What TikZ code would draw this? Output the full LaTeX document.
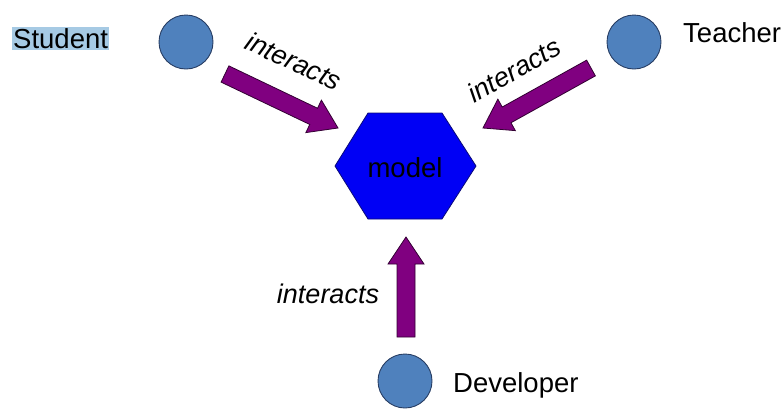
\documentclass[tikz,border=0pt]{standalone}
\usepackage{fontspec}
\setmainfont{Liberation Sans}
\usetikzlibrary{calc}
\definecolor{circfill}{RGB}{79,129,189}
\definecolor{circline}{RGB}{40,62,100}
\definecolor{hexfill}{RGB}{0,0,245}
\definecolor{hexline}{RGB}{10,10,120}
\definecolor{arrfill}{RGB}{128,0,128}
\definecolor{arrline}{RGB}{50,0,50}
\definecolor{hilite}{RGB}{166,202,228}
\newcommand\fatarrow[2]{%
  \coordinate (#1-h) at ($(#2)!27pt!(#1)$);
  \draw[fatarr] ($(#1)!9pt!90:(#2)$) -- ($(#1-h)!9pt!-90:(#1)$) -- ($(#1-h)!18pt!-90:(#1)$) -- (#2)
    -- ($(#1-h)!18pt!90:(#1)$) -- ($(#1-h)!9pt!90:(#1)$) -- ($(#1)!9pt!-90:(#2)$) -- cycle;}
\tikzset{
  actor/.style={circle, draw=circline, fill=circfill, line width=0.9pt, minimum size=54pt, inner sep=0pt},
  lbl/.style={font=\fontsize{27.5}{31}\selectfont, inner sep=0pt, text=black},
  ilbl/.style={font=\fontsize{27}{31}\selectfont\itshape, inner sep=0pt, text=black},
  fatarr/.style={draw=arrline, fill=arrfill, line width=0.8pt, line join=miter},
  hexa/.style={draw=hexline, fill=hexfill, line width=0.8pt}
}
\begin{document}
\begin{tikzpicture}[x=1pt,y=-1pt]
\useasboundingbox (0,0) rectangle (782,408);
% actors
\node[actor] (student) at (186,42) {};
\node[actor] (teacher) at (634,42) {};
\node[actor] (developer) at (405,381) {};
\node[lbl, fill=hilite, inner xsep=1pt, inner ysep=1.5pt, anchor=base west] (studentlbl) at (12,48) {Student};
\node[lbl, anchor=base west] (teacherlbl) at (683,42) {Teacher};
\node[lbl, anchor=base west] (developerlbl) at (453,392) {Developer};
% model hexagon
\coordinate (mc) at (405,166);
\draw[hexa] ($(mc)+(-70,0)$) -- ($(mc)+(-37,-53)$) -- ($(mc)+(37,-53)$) -- ($(mc)+(71,0)$)
  -- ($(mc)+(37,53)$) -- ($(mc)+(-37,53)$) -- cycle;
\node[lbl, anchor=base] (model) at (405,177) {model};
% arrows
\coordinate (sa) at (225,74);
\coordinate (sb) at (338,128);
\fatarrow{sa}{sb}
\coordinate (ta) at (591,68);
\coordinate (tb) at (483,128);
\fatarrow{ta}{tb}
\coordinate (da) at (406,337);
\coordinate (db) at (406,237);
\fatarrow{da}{db}
% labels
\node[ilbl, rotate=-25] (il1) at (294,61) {interacts};
\node[ilbl, rotate=30] (il2) at (514,70) {interacts};
\node[ilbl] (il3) at (328,294) {interacts};
\end{tikzpicture}
\end{document}
